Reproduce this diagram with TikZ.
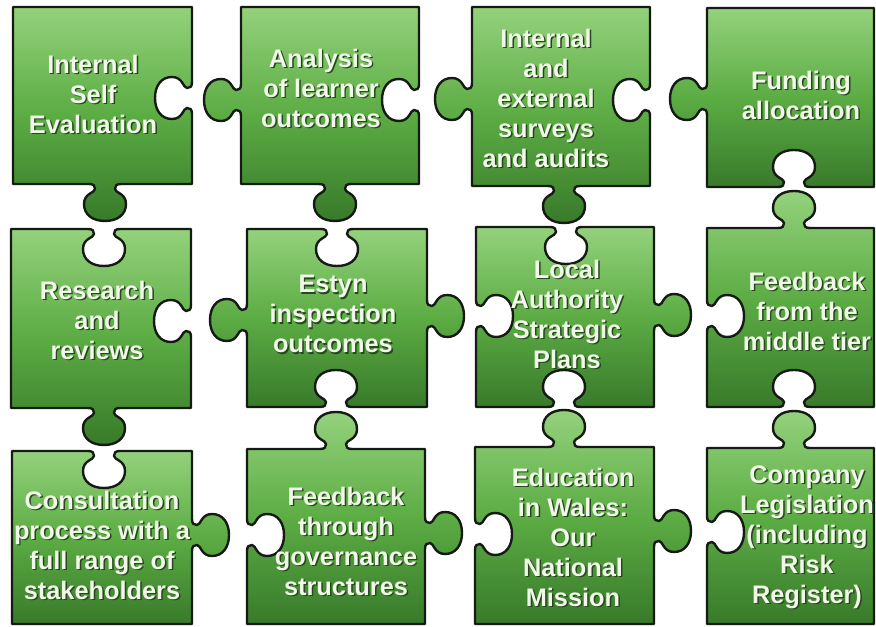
\documentclass[tikz,border=0pt]{standalone}
\usepackage{fontspec}
\setmainfont{Liberation Sans}

\definecolor{cTop} {RGB}{148,210,124}
\definecolor{cMid} {RGB}{ 92,172, 68}
\definecolor{cBot} {RGB}{ 56,122, 42}
\definecolor{cLine}{RGB}{ 22, 26, 20}
\definecolor{cTxt} {RGB}{240,248,232}
\definecolor{cShd} {RGB}{ 40, 70, 32}

%% knob on a piece edge: centre x, centre y, rotation, +1 tab / -1 hole
\newcommand\knob[4]{{[shift={(#1,#2)},rotate=#3,yscale=#4]
  -- (-16,0) .. controls (-11,0) and (-10,-2) .. (-10,-5)
  .. controls (-10,-9) and (-21,-9) .. (-21,-20)
  .. controls (-21,-31) and (-12,-37) .. (0,-37)
  .. controls (12,-37) and (21,-31) .. (21,-20)
  .. controls (21,-9) and (10,-9) .. (10,-5)
  .. controls (10,-2) and (11,0) .. (16,0)}}

%% text with a small drop shadow
\newcommand\shtxt[1]{\rlap{\kern1.1pt\raisebox{-1.1pt}{\color{cShd}#1}}#1}

\begin{document}
\begin{tikzpicture}[
  x=0.75pt, y=-0.75pt,
  %% puzzle piece body
  piece/.style={
    draw=cLine, line width=1.8pt, line join=round,
    top color=cTop, bottom color=cBot, middle color=cMid
  },
  %% white bold label
  lbl/.style={
    font=\fontsize{19}{22.5}\selectfont\bfseries,
    text=cTxt, align=center, inner sep=0pt
  },
]
\useasboundingbox (0,0) rectangle (876,627);

%% ── Row 1 ────────────────────────────────────────────────────────────────────
\draw[piece] (13,7) -- (192,7) \knob{192}{98}{-90}{-1} -- (192,184)
  \knob{105}{184}{180}{1} -- (13,184) -- cycle;
\draw[piece] (241,7) -- (419,7) \knob{419}{100}{-90}{-1} -- (419,184)
  \knob{335}{184}{180}{1} -- (241,184) \knob{241}{100}{90}{1} -- cycle;
\draw[piece] (472,7) -- (650,7) \knob{650}{100}{-90}{-1} -- (650,186)
  \knob{564}{186}{180}{1} -- (472,186) \knob{472}{99}{90}{1} -- cycle;
\draw[piece] (707,8) -- (874,8) -- (874,187)
  \knob{794}{187}{180}{-1} -- (707,187) \knob{707}{99}{90}{1} -- cycle;

%% ── Row 2 ────────────────────────────────────────────────────────────────────
\draw[piece] (11,229) \knob{104}{229}{0}{-1} -- (191,229)
  \knob{191}{321}{-90}{-1} -- (191,408)
  \knob{104}{408}{180}{1} -- (11,408) -- cycle;
\draw[piece] (247,229) \knob{337}{229}{0}{-1} -- (427,229)
  \knob{427}{316}{-90}{1} -- (427,407)
  \knob{336}{407}{180}{-1} -- (247,407) \knob{247}{320}{90}{1} -- cycle;
\draw[piece] (476,227) \knob{566}{227}{0}{-1} -- (654,227)
  \knob{654}{315}{-90}{1} -- (654,407)
  \knob{564}{407}{180}{-1} -- (476,407) \knob{476}{316}{90}{-1} -- cycle;
\draw[piece] (707,228) \knob{794}{228}{0}{1} -- (874,228) -- (874,407)
  \knob{794}{407}{180}{-1} -- (707,407) \knob{707}{316}{90}{-1} -- cycle;

%% ── Row 3 ────────────────────────────────────────────────────────────────────
\draw[piece] (12,451) \knob{104}{451}{0}{-1} -- (192,451)
  \knob{192}{535}{-90}{1} -- (192,624) -- (12,624) -- cycle;
\draw[piece] (247,449) \knob{336}{449}{0}{1} -- (425,449)
  \knob{425}{533}{-90}{1} -- (425,624) -- (247,624)
  \knob{247}{535}{90}{-1} -- cycle;
\draw[piece] (475,447) \knob{564}{447}{0}{1} -- (654,447)
  \knob{654}{531}{-90}{1} -- (654,624) -- (475,624)
  \knob{475}{534}{90}{-1} -- cycle;
\draw[piece] (707,448) \knob{794}{448}{0}{1} -- (874,448) -- (874,624)
  -- (707,624) \knob{707}{532}{90}{-1} -- cycle;

%% ── Labels ───────────────────────────────────────────────────────────────────
\node[lbl] (ise) at (93,95)
  {\shtxt{Internal}\\\shtxt{Self}\\\shtxt{Evaluation}};
\node[lbl] (alo) at (321,89)
  {\shtxt{Analysis}\\\shtxt{of learner}\\\shtxt{outcomes}};
\node[lbl] (ies) at (546,99)
  {\shtxt{Internal}\\\shtxt{and}\\\shtxt{external}\\\shtxt{surveys}\\\shtxt{and audits}};
\node[lbl] (fal) at (801,96)
  {\shtxt{Funding}\\\shtxt{allocation}};

\node[lbl] (rar) at (97,321)
  {\shtxt{Research}\\\shtxt{and}\\\shtxt{reviews}};
\node[lbl] (eio) at (333,315)
  {\shtxt{Estyn}\\\shtxt{inspection}\\\shtxt{outcomes}};
\node[lbl] (las) at (567,315)
  {\shtxt{Local}\\\shtxt{Authority}\\\shtxt{Strategic}\\\shtxt{Plans}};
\node[lbl] (fmt) at (807,312)
  {\shtxt{Feedback}\\\shtxt{from the}\\\shtxt{middle tier}};

\node[lbl] (cpr) at (102,546)
  {\shtxt{Consultation}\\\shtxt{process with a}\\\shtxt{full range of}\\\shtxt{stakeholders}};
\node[lbl] (fgs) at (346,542)
  {\shtxt{Feedback}\\\shtxt{through}\\\shtxt{governance}\\\shtxt{structures}};
\node[lbl] (ewn) at (573,538)
  {\shtxt{Education}\\\shtxt{in Wales:}\\\shtxt{Our}\\\shtxt{National}\\\shtxt{Mission}};
\node[lbl] (cls) at (807,538)
  {\shtxt{Company}\\\shtxt{Legislation}\\\shtxt{(including}\\\shtxt{Risk}\\\shtxt{Register)}};

\end{tikzpicture}
\end{document}
